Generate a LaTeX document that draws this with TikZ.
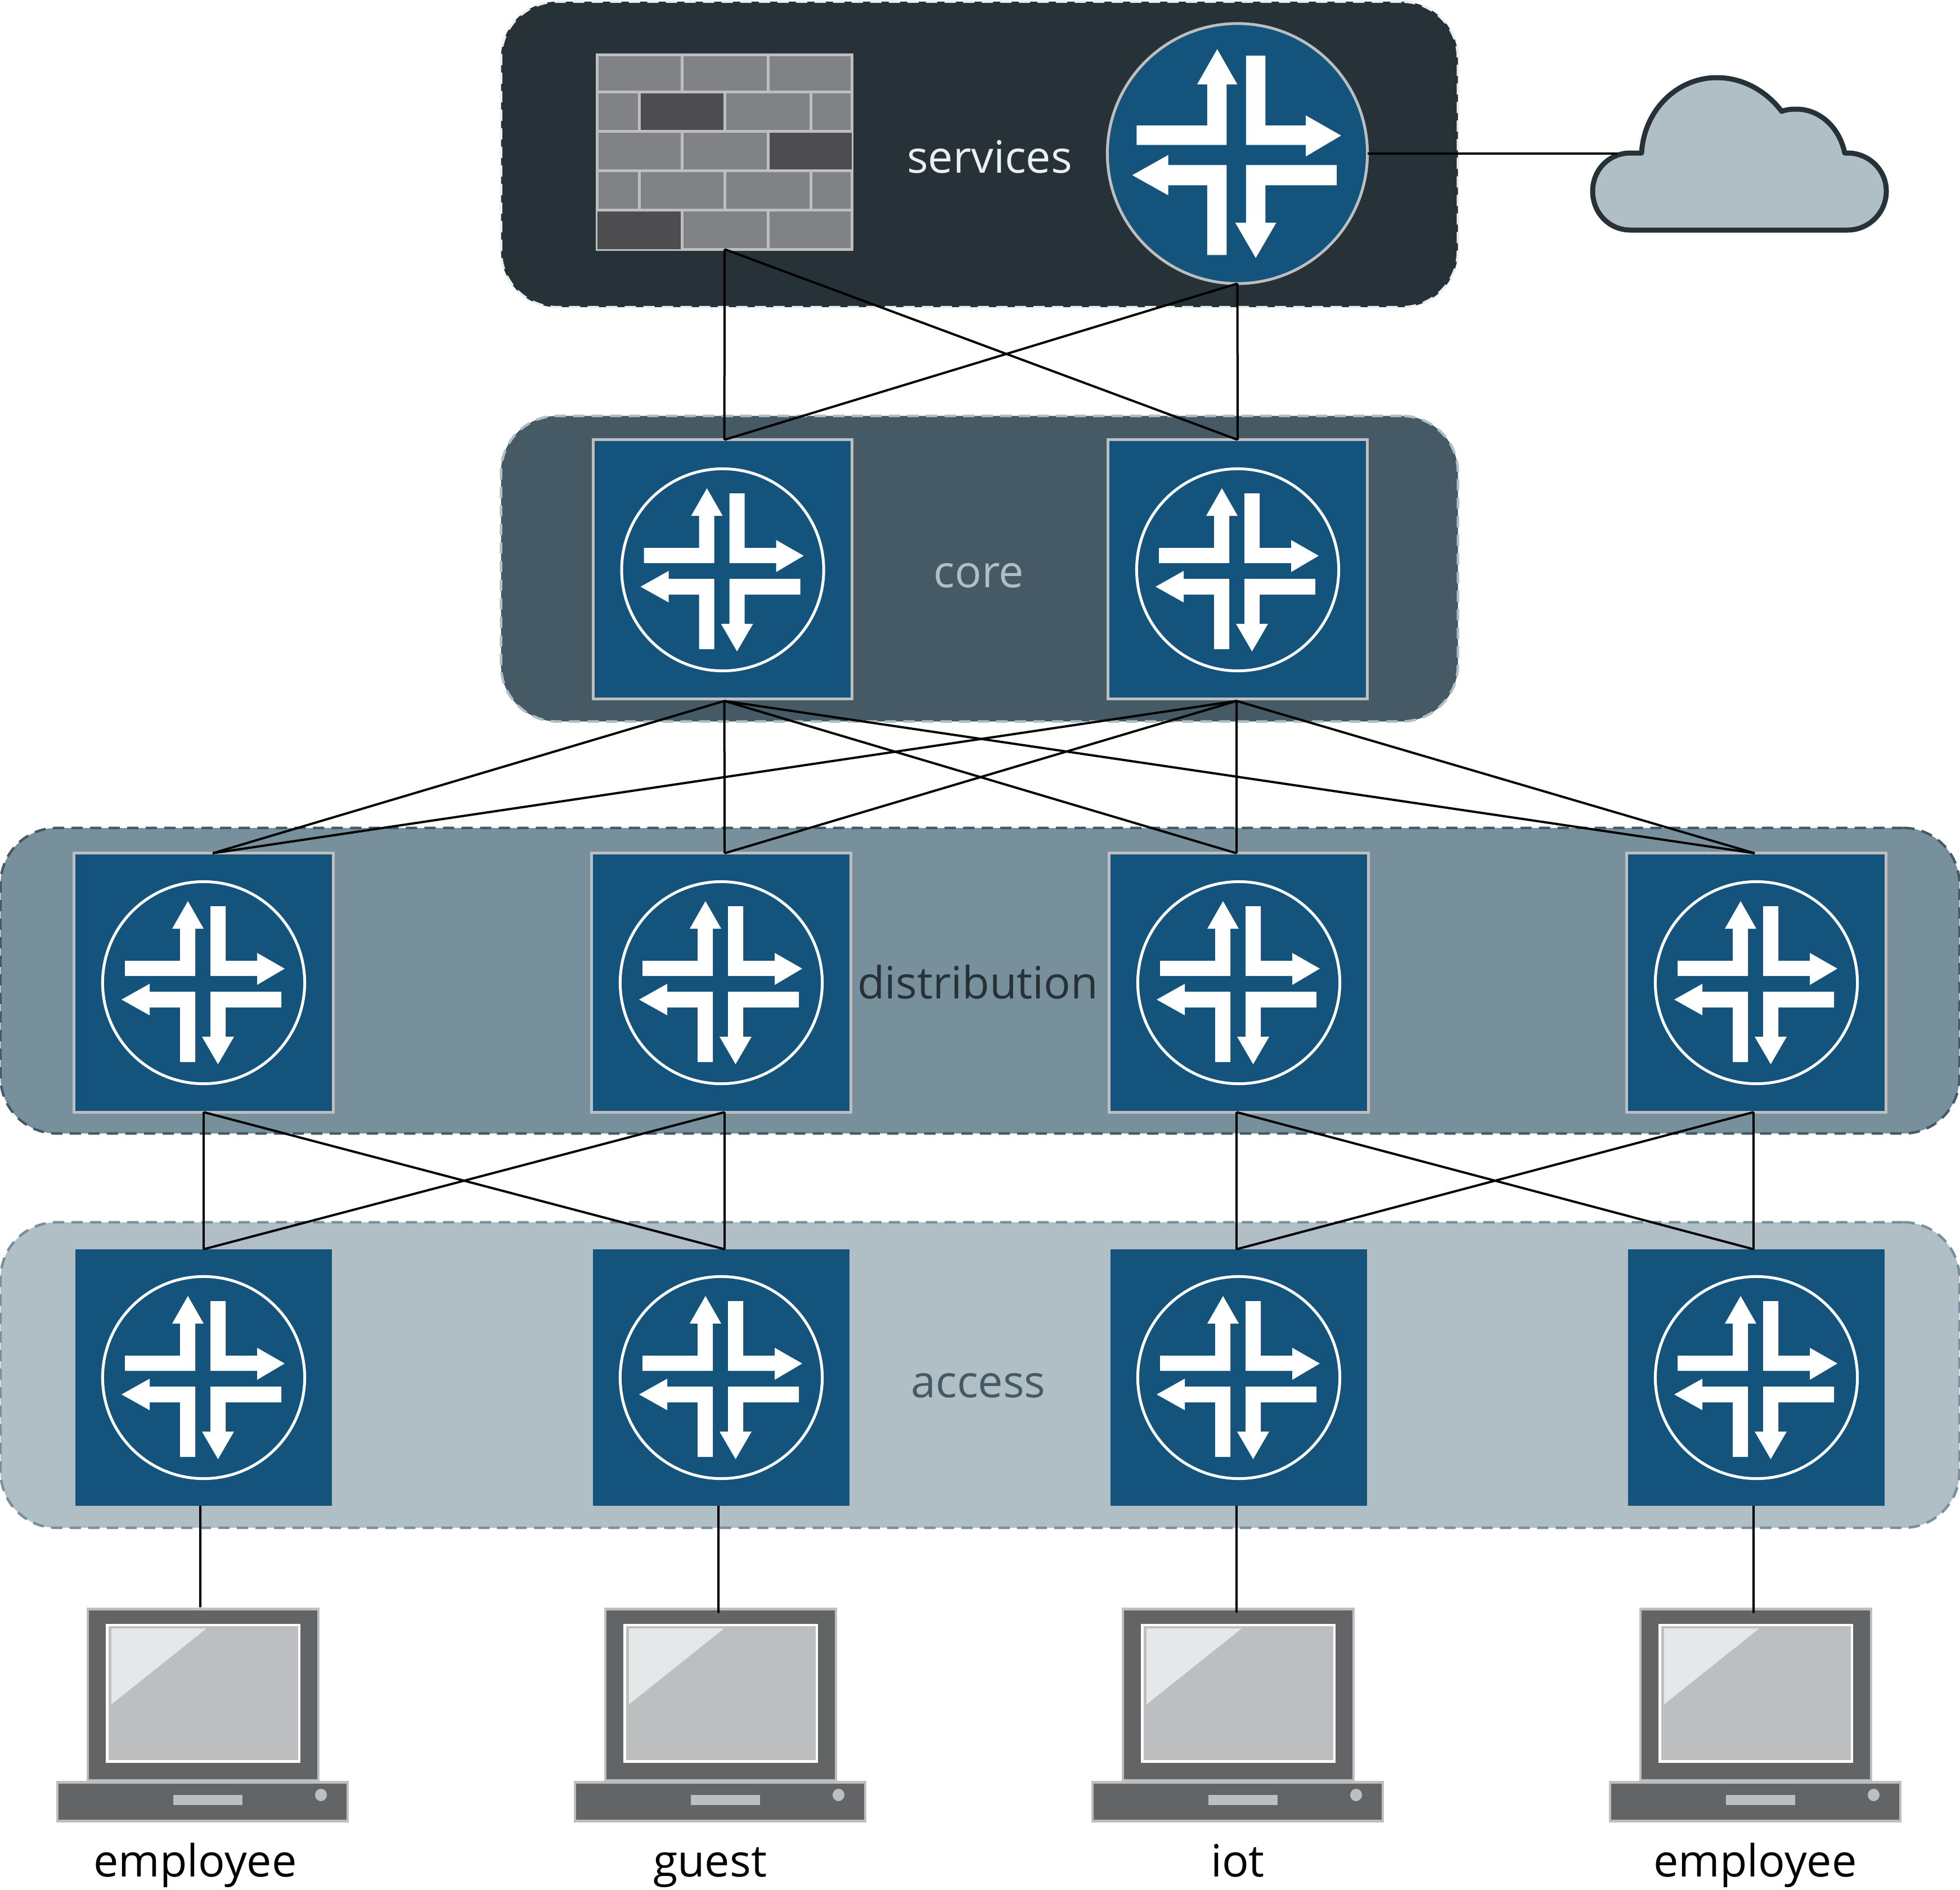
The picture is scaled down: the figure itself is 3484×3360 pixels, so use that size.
\documentclass[tikz,border=0pt]{standalone}
\usepackage{fontspec}
\setmainfont{Open Sans}
\usetikzlibrary{calc}
\definecolor{bandA}{HTML}{263238}
\definecolor{bandB}{HTML}{455A64}
\definecolor{bandC}{HTML}{78909C}
\definecolor{bandD}{HTML}{B0BEC5}
\definecolor{dashA}{HTML}{ECEFF1}
\definecolor{jblue}{HTML}{13537C}
\definecolor{edgegray}{HTML}{BCBEC0}
\definecolor{brick}{HTML}{808285}
\definecolor{brickdark}{HTML}{4D4D4F}
\definecolor{laptopbody}{HTML}{636466}
\definecolor{laptopshine}{HTML}{E6E7E8}
\tikzset{
  x=0.01cm,y=-0.01cm,
  band/.style={rectangle,rounded corners=1cm,line width=0.045cm,dash pattern=on 0.2cm off 0.13cm,minimum height=5.43cm,inner sep=0pt,outer sep=0pt},
  boxedrouter/.style={rectangle,fill=jblue,draw=edgegray,line width=0.05cm,minimum size=4.60cm,inner sep=0pt,outer sep=0pt},
  plainrouter/.style={rectangle,fill=jblue,minimum size=4.56cm,inner sep=0pt,outer sep=0pt},
  ring/.style={circle,draw=white,line width=0.05cm,minimum size=3.59cm,inner sep=0pt,outer sep=0pt},
  bigring/.style={circle,fill=jblue,draw=edgegray,line width=0.05cm,minimum size=4.62cm,inner sep=0pt,outer sep=0pt},
  lap/.style={rectangle,fill=laptopbody,draw=edgegray,line width=0.045cm,inner sep=0pt,outer sep=0pt},
  wire/.style={draw=black,line width=0.04cm},
  tag/.style={anchor=base,inner sep=0pt,font=\fontsize{22.5pt}{27pt}\selectfont},
  routerarrows/.pic={
    \fill[white] (-140,-39)--(-42,-39)--(-42,-96)--(-56,-96)--(-28,-145)--(0,-96)--(-15,-96)--(-15,-12)--(-140,-12)--cycle;
    \fill[white] (12,-136)--(39,-136)--(39,-39)--(95,-39)--(95,-53)--(144,-25)--(95,4)--(95,-12)--(12,-12)--cycle;
    \fill[white] (138,16)--(138,44)--(39,44)--(39,96)--(54,96)--(25.5,145)--(-3,96)--(12,96)--(12,16)--cycle;
    \fill[white] (-15,141)--(-42,141)--(-42,44)--(-96,44)--(-96,58)--(-146,30)--(-96,2)--(-96,16)--(-15,16)--cycle;
  },
  laptopicon/.pic={
    % origin at the centre of the base
    \node[lap,minimum width=4.10cm,minimum height=3.05cm] (#1body) at (1,-190) {};
    \fill[white] (-172,-316.5) rectangle (174,-69);
    \fill[edgegray] (-167,-312) rectangle (170,-74);
    \fill[laptopshine] (-162,-308)--(7,-308)--(-162,-173)--cycle;
    \node[lap,minimum width=5.16cm,minimum height=0.69cm] (#1base) at (0,0) {};
    \fill[edgegray] (-52,-12.5) rectangle (71,6);
    \fill[edgegray] (210.5,-12) ellipse [x radius=10.5,y radius=11];
  }
}
\begin{document}
\begin{tikzpicture}
\useasboundingbox (0,0) rectangle (3484,3360);
% tier bands
\node[band,fill=bandA,draw=dashA,minimum width=17cm] (svc) at (1741,274.5) {};
\node[band,fill=bandB,draw=bandD,minimum width=17cm] (cor) at (1741,1011) {};
\node[band,fill=bandC,draw=bandB,minimum width=34.80cm] (dst) at (1742,1743.5) {};
\node[band,fill=bandD,draw=bandC,minimum width=34.80cm] (acc) at (1742,2444.5) {};
% firewall
\node[rectangle,fill=brick,draw=edgegray,line width=0.05cm,minimum width=4.52cm,minimum height=3.45cm,inner sep=0pt,outer sep=0pt] (fw) at (1288,270.5) {};
\fill[brickdark] (1136,163) rectangle (1288,233);
\fill[brickdark] (1365,233) rectangle (1514,303);
\fill[brickdark] (1062,373) rectangle (1212,443);
\draw[edgegray,line width=0.05cm]
  (1062,163)--(1514,163) (1062,233)--(1514,233) (1062,303)--(1514,303) (1062,373)--(1514,373)
  (1212,97)--(1212,163) (1365,97)--(1365,163)
  (1136,163)--(1136,233) (1288,163)--(1288,233) (1441,163)--(1441,233)
  (1212,233)--(1212,303) (1365,233)--(1365,303)
  (1136,303)--(1136,373) (1288,303)--(1288,373) (1441,303)--(1441,373)
  (1212,373)--(1212,443) (1365,373)--(1365,443);
% services router
\node[bigring] (edge) at (2199.5,273) {};
\pic[scale=1.28] at (2199.5,273) {routerarrows};
% cloud
\draw[fill=bandD,draw=bandA,line width=0.09cm,line join=round]
  (2898,272) .. controls (2860,272) and (2831,302) .. (2831,340)
  .. controls (2831,378) and (2860,409) .. (2898,409) -- (3284,409)
  .. controls (3322,409) and (3353,378) .. (3353,340)
  .. controls (3353,302) and (3322,272) .. (3284,272) -- (3279,272)
  .. controls (3270,227) and (3235,194) .. (3193,194)
  .. controls (3183,194) and (3175,195) .. (3167,198)
  .. controls (3140,162) and (3098,138) .. (3052,138)
  .. controls (2980,138) and (2922,197) .. (2918,272) -- cycle;
\coordinate (cloudport) at (2875,273);
% core routers
\node[boxedrouter] (c1) at (1284.6,1012) {};
\node[ring] (c1r) at (1284.6,1013) {};
\pic at (1284.6,1013) {routerarrows};
\node[boxedrouter] (c2) at (2200,1012) {};
\node[ring] (c2r) at (2200,1013) {};
\pic at (2200,1013) {routerarrows};
% distribution and access routers
\foreach \n/\xx in {1/362,2/1282,3/2202,4/3122}{
  \node[boxedrouter] (d\n) at (\xx,1747) {};
  \node[ring] (d\n r) at (\xx,1747) {};
  \pic at (\xx,1747) {routerarrows};
  \node[plainrouter] (a\n) at (\xx,2449) {};
  \node[ring] (a\n r) at (\xx,2449) {};
  \pic at (\xx,2449) {routerarrows};
}
% laptops
\pic at (360,3203) {laptopicon=l1};
\pic at (1280,3203) {laptopicon=l2};
\pic at (2200,3203) {laptopicon=l3};
\pic at (3120,3203) {laptopicon=l4};
% labels
\node[tag,text=dashA] (tsvc) at (1759,307) {services};
\node[tag,text=bandD] (tcor) at (1740,1044) {core};
\node[tag,text=bandA] (tdst) at (1738,1775) {distribution};
\node[tag,text=bandB] (tacc) at (1739,2484) {access};
\node[tag,text=black] (tl1) at (347,3336) {employee};
\node[tag,text=black] (tl2) at (1262,3336) {guest};
\node[tag,text=black] (tl3) at (2200,3336) {iot};
\node[tag,text=black] (tl4) at (3120,3336) {employee};
% connectors
\draw[wire] (fw.south) -- ([xshift=0.03cm]c1.north);
\draw[wire] (fw.south) -- (c2.north);
\draw[wire] (edge.south) -- ([xshift=0.03cm]c1.north);
\draw[wire] (edge.south) -- (c2.north);
\draw[wire] (edge.east) -- (cloudport);
\foreach \c/\cs in {c1/0.03cm,c2/-0.02cm}{
  \draw[wire] ([xshift=\cs,yshift=-0.04cm]\c.south) -- ([xshift=0.16cm]d1.north);
  \draw[wire] ([xshift=\cs,yshift=-0.04cm]\c.south) -- ([xshift=0.06cm]d2.north);
  \draw[wire] ([xshift=\cs,yshift=-0.04cm]\c.south) -- ([xshift=-0.04cm]d3.north);
  \draw[wire] ([xshift=\cs,yshift=-0.04cm]\c.south) -- ([xshift=-0.03cm]d4.north);
}
\foreach \dd/\ds in {d1/0cm,d2/0.06cm}{
  \draw[wire] ([xshift=\ds]\dd.south) -- (a1.north);
  \draw[wire] ([xshift=\ds]\dd.south) -- ([xshift=0.06cm]a2.north);
}
\foreach \dd/\ds in {d3/-0.04cm,d4/-0.05cm}{
  \draw[wire] ([xshift=\ds]\dd.south) -- ([xshift=-0.04cm]a3.north);
  \draw[wire] ([xshift=\ds]\dd.south) -- ([xshift=-0.05cm]a4.north);
}
\draw[wire] ([xshift=-0.06cm]a1.south) -- ([xshift=-0.05cm,yshift=0.03cm]l1body.north);
\draw[wire] ([xshift=-0.05cm]a2.south) -- ([xshift=-0.04cm,yshift=-0.07cm]l2body.north);
\draw[wire] ([xshift=-0.04cm]a3.south) -- ([xshift=-0.03cm,yshift=-0.07cm]l3body.north);
\draw[wire] ([xshift=-0.05cm]a4.south) -- ([xshift=-0.04cm,yshift=-0.07cm]l4body.north);
\end{tikzpicture}
\end{document}
